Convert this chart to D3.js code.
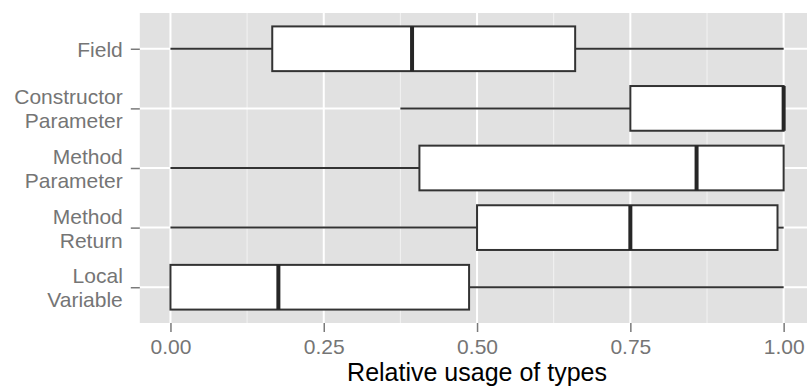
<!DOCTYPE html>
<html>
<head>
<meta charset="utf-8">
<script src="https://cdn.jsdelivr.net/npm/d3@7"></script>
<style>
  body { margin: 0; background: #fff; }
  svg { display: block; font-family: "Liberation Sans", Arial, Helvetica, sans-serif; }
</style>
</head>
<body>
<script>
var width = 807,
    height = 387;

// data (relative usage, 0..1)
var categories = ["Field", "Constructor Parameter", "Method Parameter", "Method Return", "Local Variable"];
var lowerWhisker = [0.00, 0.375, 0.00, 0.00, 0.00];
var q1 = [0.166, 0.75, 0.406, 0.50, 0.00];
var medians = [0.394, 1.00, 0.858, 0.75, 0.176];
var q3 = [0.66, 1.00, 1.00, 0.99, 0.487];
var upperWhisker = [1.00, 1.00, 1.00, 1.00, 1.00];
var xTicks = [0, 0.25, 0.5, 0.75, 1];
var xMinor = [0.125, 0.375, 0.625, 0.875];

var rows = categories.map(function (c, i) {
    return { cat: c, lo: lowerWhisker[i], q1: q1[i], med: medians[i], q3: q3[i], hi: upperWhisker[i] };
});

var panel = { left: 139.8, right: 814.3, top: 13, bottom: 323 };

var x = d3.scaleLinear()
        .domain([-0.05, 1.05])
        .range([panel.left, panel.right]);

var y = d3.scalePoint()
        .domain(categories)
        .range([panel.top, panel.bottom])
        .padding(0.6);

var boxH = y.step() * 0.75;

var svg = d3.select("body").append("svg")
        .attr("width", width)
        .attr("height", height);

// panel background
svg.append("rect")
    .attr("x", panel.left)
    .attr("y", panel.top)
    .attr("width", panel.right - panel.left)
    .attr("height", panel.bottom - panel.top)
    .attr("fill", "#e1e1e1");

var grid = svg.append("g");

grid.selectAll(".minor")
    .data(xMinor)
    .enter().append("line")
    .attr("x1", function (d) { return x(d); })
    .attr("x2", function (d) { return x(d); })
    .attr("y1", panel.top)
    .attr("y2", panel.bottom)
    .attr("stroke", "#f2f2f2")
    .attr("stroke-width", 1);

grid.selectAll(".majorx")
    .data(xTicks)
    .enter().append("line")
    .attr("x1", function (d) { return x(d); })
    .attr("x2", function (d) { return x(d); })
    .attr("y1", panel.top)
    .attr("y2", panel.bottom)
    .attr("stroke", "#ffffff")
    .attr("stroke-width", 2);

grid.selectAll(".majory")
    .data(categories)
    .enter().append("line")
    .attr("x1", panel.left)
    .attr("x2", panel.right)
    .attr("y1", function (d) { return y(d); })
    .attr("y2", function (d) { return y(d); })
    .attr("stroke", "#ffffff")
    .attr("stroke-width", 2);

var boxes = svg.append("g")
        .selectAll("g")
        .data(rows)
        .enter().append("g");

// whiskers
boxes.append("line")
    .attr("x1", function (d) { return x(d.lo); })
    .attr("x2", function (d) { return x(d.q1); })
    .attr("y1", function (d) { return y(d.cat); })
    .attr("y2", function (d) { return y(d.cat); })
    .attr("stroke", "#333333")
    .attr("stroke-width", 2);

boxes.append("line")
    .attr("x1", function (d) { return x(d.q3); })
    .attr("x2", function (d) { return x(d.hi); })
    .attr("y1", function (d) { return y(d.cat); })
    .attr("y2", function (d) { return y(d.cat); })
    .attr("stroke", "#333333")
    .attr("stroke-width", 2);

boxes.append("rect")
    .attr("x", function (d) { return x(d.q1); })
    .attr("y", function (d) { return y(d.cat) - boxH / 2; })
    .attr("width", function (d) { return x(d.q3) - x(d.q1); })
    .attr("height", boxH)
    .attr("fill", "#ffffff")
    .attr("stroke", "#333333")
    .attr("stroke-width", 2);

boxes.append("line")
    .attr("x1", function (d) { return x(d.med); })
    .attr("x2", function (d) { return x(d.med); })
    .attr("y1", function (d) { return y(d.cat) - boxH / 2; })
    .attr("y2", function (d) { return y(d.cat) + boxH / 2; })
    .attr("stroke", "#262626")
    .attr("stroke-width", 4);

// x axis
var xAxis = svg.append("g")
        .attr("transform", "translate(0," + panel.bottom + ")")
        .call(d3.axisBottom(x).tickValues(xTicks).tickFormat(d3.format(".2f")).tickSize(9).tickPadding(7));

xAxis.select(".domain").remove();
xAxis.selectAll(".tick line").attr("stroke", "#7a7a7a").attr("stroke-width", 1.5);
xAxis.selectAll(".tick text")
    .attr("fill", "#757575")
    .style("font-size", "21px")
    .attr("dy", "0.71em");

// y axis
var yAxis = svg.append("g")
        .attr("transform", "translate(" + panel.left + ",0)")
        .call(d3.axisLeft(y).tickSize(9).tickFormat(""));

yAxis.select(".domain").remove();
yAxis.selectAll(".tick line").attr("stroke", "#7a7a7a").attr("stroke-width", 1.5);

var lineGap = 24;
yAxis.selectAll(".tick").each(function (d) {
    var words = d.split(" ");
    var t = d3.select(this).select("text")
        .attr("x", -17)
        .attr("fill", "#757575")
        .style("font-size", "21px")
        .attr("text-anchor", "end")
        .attr("dy", null)
        .text(null);
    var offset = -(words.length - 1) * lineGap / 2;
    words.forEach(function (w, k) {
        t.append("tspan")
            .attr("x", -17)
            .attr("y", offset + k * lineGap)
            .attr("dy", "0.36em")
            .text(w);
    });
});

// axis title
svg.append("text")
    .attr("x", (panel.left + panel.right) / 2)
    .attr("y", 381)
    .attr("text-anchor", "middle")
    .attr("fill", "#000")
    .style("font-size", "25px")
    .text("Relative usage of types");
</script>
</body>
</html>
